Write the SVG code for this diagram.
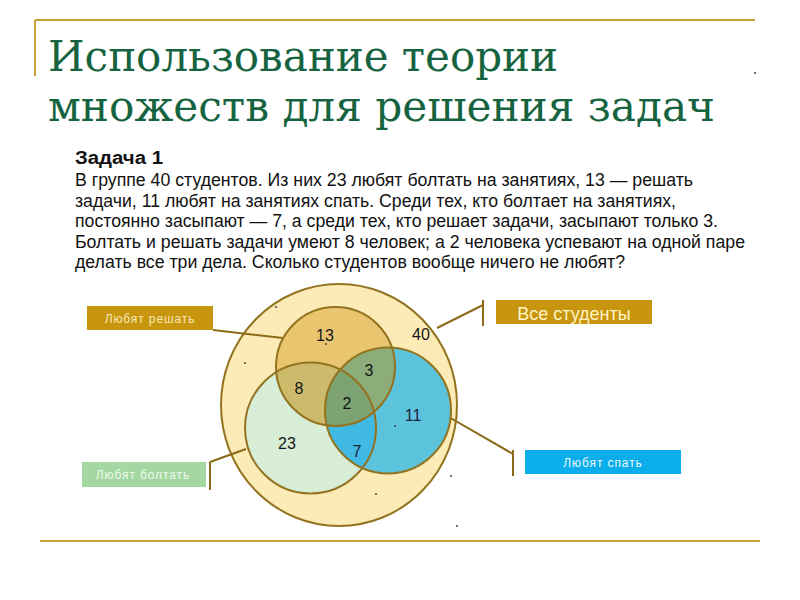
<svg xmlns="http://www.w3.org/2000/svg" width="800" height="600" viewBox="0 0 800 600">
<style>
.title{font-family:"DejaVu Serif Condensed","DejaVu Serif",serif;font-size:42px;fill:#16643f}
.body{font-family:"Liberation Sans Narrow","Liberation Sans","DejaVu Sans Condensed",sans-serif;font-size:17.5px;fill:#111}
.num{font-family:"Liberation Sans",Arial,sans-serif;font-size:16px;fill:#151515;text-anchor:middle}
.lbl{font-family:"Liberation Sans",Arial,sans-serif;font-size:12px;text-anchor:middle;letter-spacing:0.9px}
.ring{fill:none;stroke:#937320;stroke-width:2}
.outer{fill:#fdebb7;stroke:#937320;stroke-width:2}
.conn{fill:none;stroke:#8b6b18;stroke-width:2}
.frame{fill:none;stroke:#c9a23a;stroke-width:2}
.dot{fill:#444}
</style>
<defs>
<clipPath id="cG"><circle cx="310.5" cy="428" r="65.5"/></clipPath>
<clipPath id="cB"><circle cx="388" cy="410.5" r="63"/></clipPath>
</defs>
<rect width="800" height="600" fill="#fff"/>
<g id="frame">
<path class="frame" d="M35 20 H755 M35 20 V76"/>
<path class="frame" d="M40 541 H760"/>
</g>
<g id="title">
<text class="title" x="48" y="71" textLength="510" lengthAdjust="spacingAndGlyphs">Использование теории</text>
<text class="title" x="48" y="121" textLength="667" lengthAdjust="spacingAndGlyphs">множеств для решения задач</text>
</g>
<g id="problem">
<text class="body" x="75" y="164" font-weight="bold" textLength="88" lengthAdjust="spacingAndGlyphs">Задача 1</text>
<text class="body" x="75" y="186" textLength="618" lengthAdjust="spacingAndGlyphs">В группе 40 студентов. Из них 23 любят болтать на занятиях, 13 — решать</text>
<text class="body" x="75" y="206.5" textLength="601" lengthAdjust="spacingAndGlyphs">задачи, 11 любят на занятиях спать. Среди тех, кто болтает на занятиях,</text>
<text class="body" x="75" y="227" textLength="643" lengthAdjust="spacingAndGlyphs">постоянно засыпают — 7, а среди тех, кто решает задачи, засыпают только 3.</text>
<text class="body" x="75" y="247.5" textLength="670" lengthAdjust="spacingAndGlyphs">Болтать и решать задачи умеют 8 человек; а 2 человека успевают на одной паре</text>
<text class="body" x="75" y="268" textLength="550" lengthAdjust="spacingAndGlyphs">делать все три дела. Сколько студентов вообще ничего не любят?</text>
</g>
<g id="all-students">
<ellipse class="outer" cx="339" cy="405" rx="118" ry="121"/>
</g>
<g id="connectors">
<path class="conn" d="M213 330 L283 338"/>
<path class="conn" d="M210 462 V490 M210 462 L246 449"/>
<path class="conn" d="M483 300 V326 M483 305 L437 328"/>
<path class="conn" d="M513 450 V476 M513 454 L447 416"/>
</g>
<g id="venn-fills">
<circle cx="310.5" cy="428" r="65.5" fill="#d8edd6"/>
<circle cx="388" cy="410.5" r="63" fill="#5cc3dd"/>
<circle cx="335.5" cy="366.5" r="59.5" fill="#e9c56f"/>
<g clip-path="url(#cG)"><circle cx="388" cy="410.5" r="63" fill="#40b9e3"/></g>
<g clip-path="url(#cG)"><circle cx="335.5" cy="366.5" r="59.5" fill="#cdbb6c"/></g>
<g clip-path="url(#cB)"><circle cx="335.5" cy="366.5" r="59.5" fill="#8cad79"/></g>
<g clip-path="url(#cG)"><g clip-path="url(#cB)"><circle cx="335.5" cy="366.5" r="59.5" fill="#7ea373"/></g></g>
</g>
<g id="chat">
<circle class="ring" cx="310.5" cy="428" r="65.5"/>
</g>
<g id="sleep">
<circle class="ring" cx="388" cy="410.5" r="63"/>
</g>
<g id="solve">
<circle class="ring" cx="335.5" cy="366.5" r="59.5"/>
</g>
<g id="numbers">
<text class="num" x="325" y="341">13</text>
<text class="num" x="421" y="340">40</text>
<text class="num" x="369" y="376">3</text>
<text class="num" x="299" y="394">8</text>
<text class="num" x="347" y="409">2</text>
<text class="num" x="413" y="421" style="fill:#1a2340">11</text>
<text class="num" x="287" y="449">23</text>
<text class="num" x="357" y="457" style="fill:#1a2340">7</text>
</g>
<g id="label-solve">
<rect x="87" y="306" width="126" height="24" fill="#c8960e"/>
<text class="lbl" x="150" y="323" fill="#f6e7b4">Любят  решать</text>
</g>
<g id="label-chat">
<rect x="82" y="462" width="124" height="25" fill="#a3d8a2"/>
<text class="lbl" x="143" y="479" fill="#eef8ea">Любят болтать</text>
</g>
<g id="label-all">
<rect x="496" y="300" width="156" height="24" fill="#c8960e"/>
<text x="574" y="320" fill="#fff2c4" font-family="Liberation Sans, Arial, sans-serif" font-size="18" text-anchor="middle">Все студенты</text>
</g>
<g id="label-sleep">
<rect x="525" y="450" width="156" height="24" fill="#0baeea"/>
<text class="lbl" x="603" y="467" fill="#eaf8ff">Любят спать</text>
</g>
<g id="dots">
<circle class="dot" cx="755" cy="73" r="1"/>
<circle class="dot" cx="276" cy="307" r="1"/>
<circle class="dot" cx="245" cy="363" r="1"/>
<circle class="dot" cx="395" cy="426" r="1"/>
<circle class="dot" cx="451" cy="476" r="1"/>
<circle class="dot" cx="376" cy="494" r="1"/>
<circle class="dot" cx="457" cy="526" r="1"/>
<circle class="dot" cx="326" cy="344" r="1"/>
</g>
</svg>
